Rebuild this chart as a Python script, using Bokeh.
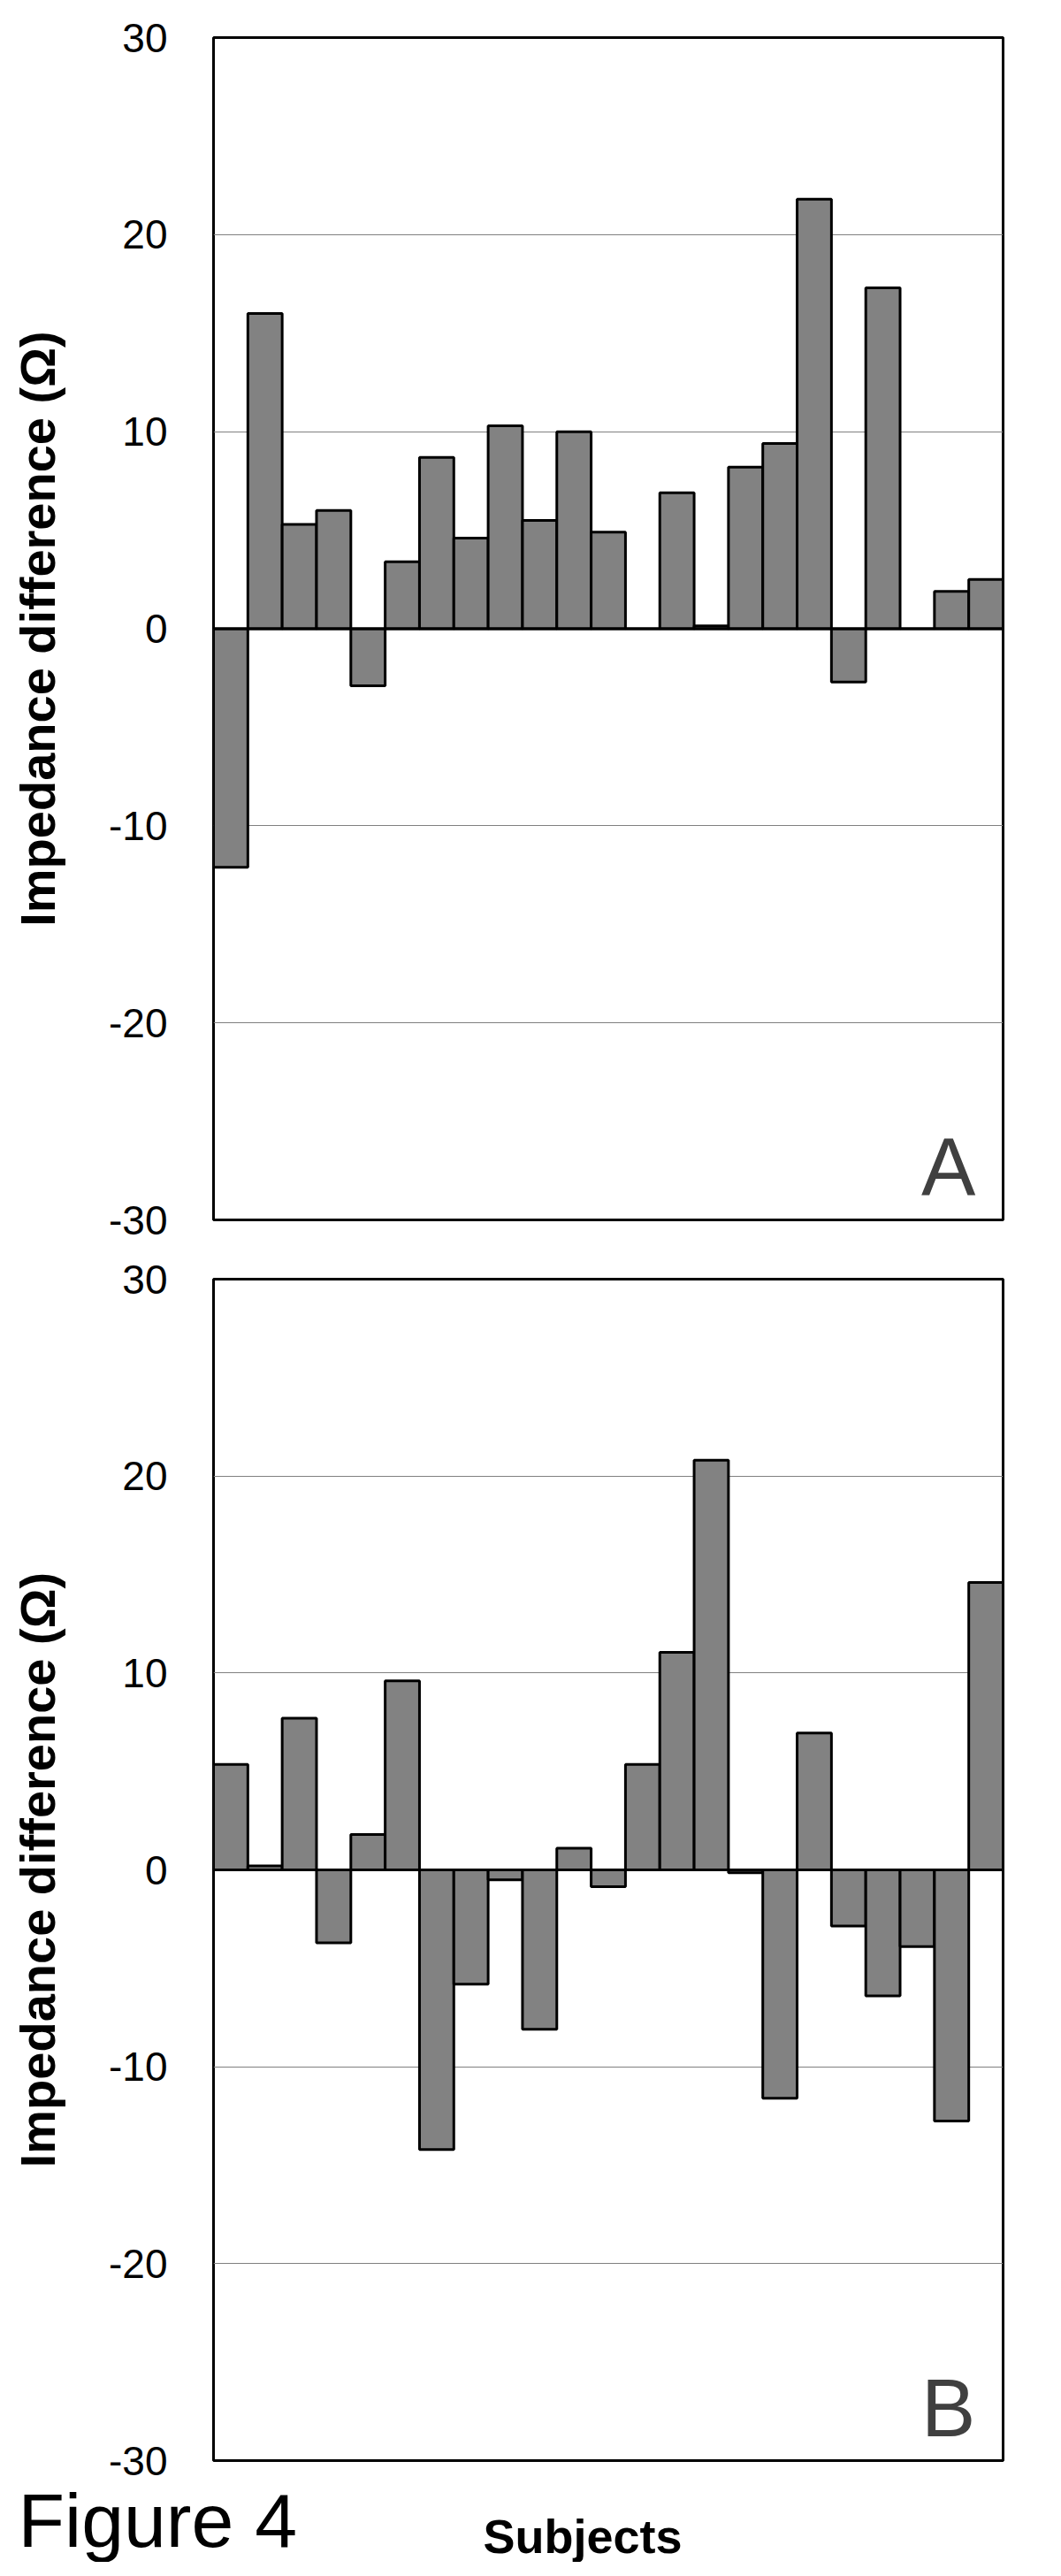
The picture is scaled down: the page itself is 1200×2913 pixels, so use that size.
from bokeh.plotting import figure
from bokeh.models import Span, Label, ColumnDataSource, FixedTicker
from bokeh.layouts import column
from bokeh.embed import file_html
from bokeh.resources import INLINE

subjects = list(range(1, 24))
values_a = [-12.1, 16.0, 5.3, 6.0, -2.9, 3.4, 8.7, 4.6, 10.3, 5.5, 10.0, 4.9, 0.0,
            6.9, 0.15, 8.2, 9.4, 21.8, -2.7, 17.3, 0.0, 1.9, 2.5]
values_b = [5.35, 0.2, 7.7, -3.7, 1.8, 9.6, -14.2, -5.8, -0.5, -8.1, 1.1, -0.85, 5.35,
            11.05, 20.8, -0.15, -11.6, 6.95, -2.85, -6.4, -3.9, -12.75, 14.6]
y_ticks = [-30, -20, -10, 0, 10, 20, 30]
y_tick_labels = ["-30", "-20", "-10", "0", "10", "20", "30"]
y_label = "Impedance difference (\u03a9)"
x_label = "Subjects"
figure_caption = "Figure 4"
panel_letters = ["A", "B"]
FONT = "Liberation Sans"


def make_panel(vals, letter, height, top, bottom):
    p = figure(width=1184, height=height, x_range=(0.5, 23.5), y_range=(-30, 30),
               output_backend="svg", toolbar_location=None,
               min_border_left=241, min_border_right=50,
               min_border_top=top, min_border_bottom=bottom)
    p.outline_line_color = "black"
    p.outline_line_width = 3
    p.xgrid.visible = False
    p.xaxis.visible = False
    p.ygrid.grid_line_color = "#808080"
    p.ygrid.grid_line_width = 1
    p.yaxis.ticker = FixedTicker(ticks=y_ticks)
    p.yaxis.major_label_overrides = {t: s for t, s in zip(y_ticks, y_tick_labels)}
    p.yaxis.axis_line_color = None
    p.yaxis.major_tick_line_color = None
    p.yaxis.minor_tick_line_color = None
    p.yaxis.major_label_text_font = FONT
    p.yaxis.major_label_text_font_size = "46px"
    p.yaxis.major_label_text_color = "black"
    p.yaxis.major_label_text_align = "left"
    p.yaxis.major_label_standoff = 46
    p.yaxis.axis_label = y_label
    p.yaxis.axis_label_text_font = FONT
    p.yaxis.axis_label_text_font_style = "bold"
    p.yaxis.axis_label_text_font_size = "56px"
    p.yaxis.axis_label_text_color = "black"
    p.yaxis.axis_label_standoff = 46
    src = ColumnDataSource(dict(x=subjects, top=vals))
    p.vbar(x="x", top="top", bottom=0, width=1.0, source=src,
           fill_color="#828282", line_color="black", line_width=3)
    p.add_layout(Span(location=0, dimension="width", line_color="black", line_width=3))
    p.add_layout(Label(x=22.7, y=-29.6, text=letter, text_align="right",
                       text_baseline="bottom", text_font=FONT,
                       text_font_size="92px", text_color="#404040"))
    return p


pa = make_panel(values_a, panel_letters[0], 1418, 42, 39)
pb = make_panel(values_b, panel_letters[1], 1392, 28, 28)

footer = figure(width=1184, height=87, output_backend="svg", toolbar_location=None,
                min_border=0, x_range=(0, 1), y_range=(0, 1))
footer.outline_line_color = None
footer.axis.visible = False
footer.grid.visible = False
footer.add_layout(Label(x=20, y=0, x_units="screen", y_units="screen", text=figure_caption,
                        text_font=FONT, text_font_size="86px", text_color="black",
                        text_baseline="bottom"))
footer.add_layout(Label(x=546, y=0, x_units="screen", y_units="screen", text=x_label,
                        text_font=FONT, text_font_size="54px", text_font_style="bold",
                        text_color="black", text_baseline="bottom"))

layout = column(pa, pb, spacing=0)
open("out.html", "w").write(file_html([layout, footer], INLINE))
